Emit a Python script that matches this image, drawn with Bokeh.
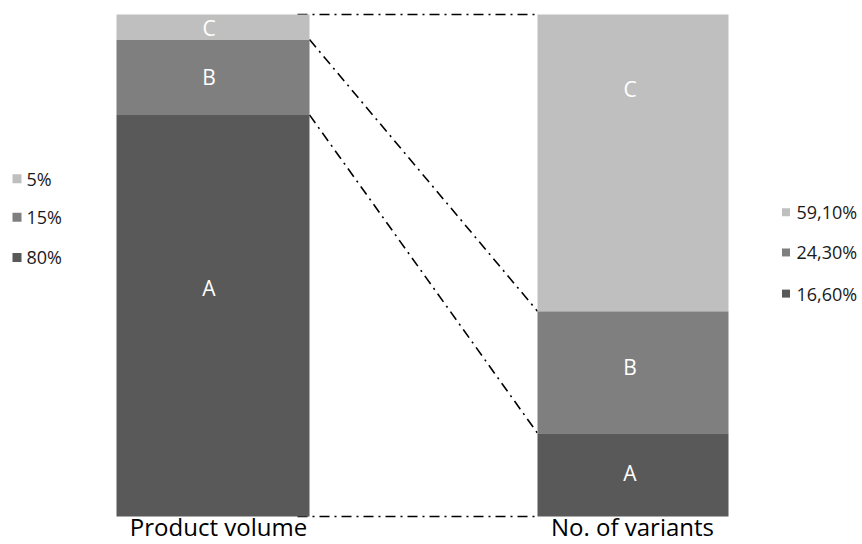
from bokeh.plotting import figure
from bokeh.models import Range1d, ColumnDataSource
from bokeh.core.properties import value
from bokeh.embed import file_html
from bokeh.resources import INLINE

# Shares (%) of each class, listed bottom to top: A, B, C
classes = ["A", "B", "C"]
volume_share = [80, 15, 5]
variant_share = [16.6, 24.3, 59.1]
colors = ["#595959", "#7f7f7f", "#bfbfbf"]

volume_legend = ["5%", "15%", "80%"]
variant_legend = ["59,10%", "24,30%", "16,60%"]

bar_titles = ["Product volume", "No. of variants"]

# Layout (x in pixels, y in percent of the bar height)
W, H = 862, 544
left_x, left_w = 212.5, 193
right_x, right_w = 632.5, 191
label_y_left = [45.6, 87.6, 97.4]
label_y_right = [8.6, 29.7, 85.1]
FONT = "Open Sans"

p = figure(width=W, height=H, output_backend="svg", toolbar_location=None,
           x_range=Range1d(0, W), y_range=Range1d(-5.578, 102.789),
           min_border=0)
p.axis.visible = False
p.grid.visible = False
p.outline_line_color = None
p.background_fill_color = "white"


def cumulative(vals):
    out, s = [0.0], 0.0
    for v in vals:
        s += v
        out.append(s)
    return out


cum_l = cumulative(volume_share)
cum_r = cumulative(variant_share)

# Dash-dot connectors between the class boundaries of the two bars
x0 = left_x + left_w / 2
x1 = right_x - right_w / 2
for i, (yl, yr) in enumerate(zip(cum_l, cum_r)):
    start = x0 - 12 if i in (0, len(cum_l) - 1) else x0
    p.line([start, x1], [yl, yr], line_color="black", line_width=1.6,
           line_dash="10 5 2 5")

# Stacked bars
for cx, w, cum in ((left_x, left_w, cum_l), (right_x, right_w, cum_r)):
    src = ColumnDataSource(dict(x=[cx] * 3, bottom=cum[:-1], top=cum[1:],
                                color=colors))
    p.vbar(x="x", width=w, bottom="bottom", top="top", fill_color="color",
           line_color=None, source=src)

# Class labels inside the segments
p.text(x=[left_x - 4] * 3, y=label_y_left, text=classes, text_color="white",
       text_font=value(FONT), text_font_size="21px", text_align="center",
       text_baseline="middle")
p.text(x=[right_x - 3] * 3, y=label_y_right, text=classes, text_color="white",
       text_font=value(FONT), text_font_size="21px", text_align="center",
       text_baseline="middle")

# Bar titles below
p.text(x=[218, 632], y=[-2.0, -2.0], text=bar_titles, text_color="black",
       text_font=value(FONT), text_font_size="24px", text_align="center",
       text_baseline="middle")

# Legends
leg_l_y = [67.3, 59.6, 51.6]
leg_r_y = [60.6, 52.6, 44.4]
leg_colors = colors[::-1]
p.scatter(x=[16.5] * 3, y=leg_l_y, marker="square", size=9,
          fill_color=leg_colors, line_color=None)
p.text(x=[26] * 3, y=leg_l_y, text=volume_legend, text_color="#1a1a1a",
       text_font=value(FONT), text_font_size="18px", text_align="left",
       text_baseline="middle")
p.scatter(x=[785.5] * 3, y=leg_r_y, marker="square", size=8,
          fill_color=leg_colors, line_color=None)
p.text(x=[796] * 3, y=leg_r_y, text=variant_legend, text_color="#1a1a1a",
       text_font=value(FONT), text_font_size="18px", text_align="left",
       text_baseline="middle")

open("out.html", "w").write(file_html(p, INLINE))
